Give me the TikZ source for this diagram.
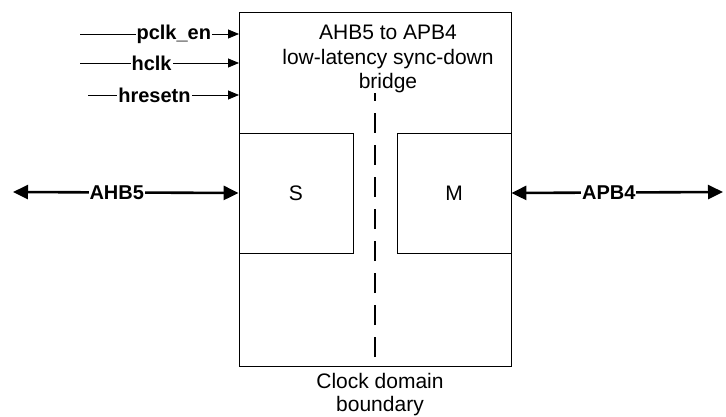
\documentclass[tikz,border=0pt]{standalone}
\usepackage{fontspec}
\setmainfont{Liberation Sans}
\usetikzlibrary{arrows.meta}
\begin{document}
\begin{tikzpicture}[x=1pt,y=-1pt,
  txt/.style={font=\fontsize{21}{24.5}\selectfont, inner sep=0pt},
  lbl/.style={font=\fontsize{20}{22}\selectfont\bfseries, fill=white, inner sep=1pt},
  blk/.style={draw, line width=0.8pt, inner sep=0pt},
  sig/.style={line width=0.8pt, -{Triangle[length=11pt,width=9pt]}},
  bus/.style={line width=2.6pt, {Triangle[length=15pt,width=14pt]}-{Triangle[length=15pt,width=14pt]}},
  bnd/.style={line width=2.6pt, dash pattern=on 20pt off 12pt}]
\useasboundingbox (0,0) rectangle (726,417);
\node[blk, minimum width=272pt, minimum height=354pt, anchor=north west] (bridge) at (239,12) {};
\node[txt, align=center, anchor=north] (title) at (388,25) {AHB5 to APB4\\low-latency sync-down\\bridge};
\node[blk, txt, minimum width=114pt, minimum height=120pt] (S) at (296,193) {S};
\node[blk, txt, minimum width=114pt, minimum height=120pt] (M) at (454,193) {M};
\coordinate (dtop) at (375,93);
\coordinate (dbot) at (375,357);
\draw[bnd] (dbot) -- (dtop);
\node[txt, align=center, anchor=north, font=\fontsize{21}{23}\selectfont] (cdb) at (380,373) {Clock domain\\boundary};
\coordinate (p1) at (80,34);
\coordinate (p2) at (80,63);
\coordinate (p3) at (88,95);
\draw[sig] (p1) -- (bridge.west |- p1) node[lbl, pos=0.59] (l1) {pclk\_en};
\draw[sig] (p2) -- (bridge.west |- p2) node[lbl, pos=0.45] (l2) {hclk};
\draw[sig] (p3) -- (bridge.west |- p3) node[lbl, pos=0.44] (l3) {hresetn};
\coordinate (ahb) at (13,192);
\coordinate (apb) at (723,192);
\draw[bus] (ahb) -- (S.west) node[lbl, pos=0.46] (la) {AHB5};
\draw[bus] (M.east) -- (apb) node[lbl, pos=0.46] (lp) {APB4};
\end{tikzpicture}
\end{document}
